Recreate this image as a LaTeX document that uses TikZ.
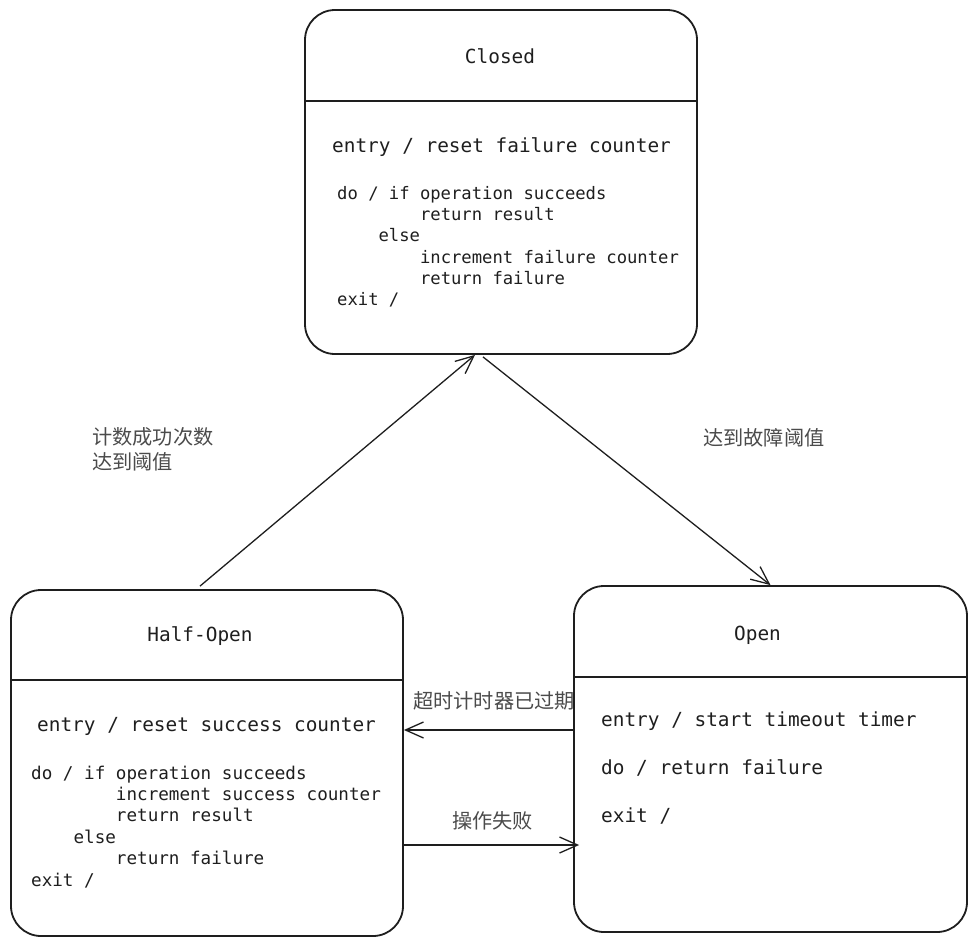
\documentclass[tikz,border=0pt]{standalone}
\usepackage{fontspec}
\setmonofont{DejaVu Sans Mono}
\newfontfamily\cjk{Noto Sans CJK SC}
\usetikzlibrary{arrows.meta}
\definecolor{ink}{HTML}{1E1E1E}
\begin{document}
\begin{tikzpicture}[x=1pt, y=-1pt, baseline,
    state/.style={draw=ink, line width=1.8pt, rounded corners=30pt, inner sep=0},
    head/.style={font=\ttfamily\fontsize{19.4}{21}\selectfont, text=ink, anchor=base, inner sep=0},
    body/.style={font=\ttfamily\fontsize{19.4}{21}\selectfont, text=ink, anchor=base west, inner sep=0, align=left},
    code/.style={body, font=\ttfamily\fontsize{17.2}{21.2}\selectfont},
    lbl/.style={font=\cjk\fontsize{20.2}{25}\selectfont, text=ink!80, anchor=west, inner sep=0, align=left},
    trans/.style={draw=ink, line width=1.3pt, -{Straight Barb[length=18pt, width=16pt, line width=1.3pt]}}]
    \useasboundingbox (0,0) rectangle (977,946);
    \node[state, minimum width=392pt, minimum height=344pt] (closed) at (501,182) {};
    \node[state, minimum width=392pt, minimum height=346pt] (hopen) at (207,763) {};
    \node[state, minimum width=393pt, minimum height=346pt] (open) at (770.5,759) {};
    \draw[ink, line width=1.8pt] ([yshift=-92pt]closed.north west) -- ([yshift=-92pt]closed.north east);
    \draw[ink, line width=1.8pt] ([yshift=-91pt]hopen.north west) -- ([yshift=-91pt]hopen.north east);
    \draw[ink, line width=1.8pt] ([yshift=-92pt]open.north west) -- ([yshift=-92pt]open.north east);
    \node[head] (closedname) at (500,63) {Closed};
    \node[body] (closedentry) at (332,152) {entry / reset failure counter};
    \node[code] (closeddo) at (337,305.5) {do / if operation succeeds\\
        \hphantom{do / if }return result\\
        \hphantom{do /}else\\
        \hphantom{do / if }increment failure counter\\
        \hphantom{do / if }return failure\\
        exit /};
    \node[head] (hopenname) at (200,641.5) {Half-Open};
    \node[body] (hopenentry) at (37,731.5) {entry / reset success counter};
    \node[code, font=\ttfamily\fontsize{17.6}{21.4}\selectfont] (hopendo) at (31,886) {do / if operation succeeds\\
        \hphantom{do / if }increment success counter\\
        \hphantom{do / if }return result\\
        \hphantom{do /}else\\
        \hphantom{do / if }return failure\\
        exit /};
    \node[head] (openname) at (757.5,640) {Open};
    \node[body, font=\ttfamily\fontsize{19.4}{47.7}\selectfont] (openbody) at (601,822) {entry / start timeout timer\\
        do / return failure\\
        exit /};
    \draw[trans] ([xshift=-7pt, yshift=3pt]hopen.north) -- ([xshift=-26pt]closed.south);
    \draw[trans] ([xshift=-18pt, yshift=-2pt]closed.south) -- (open.north);
    \draw[trans] ([yshift=29pt]open.west) -- ([yshift=29pt]open.west -| hopen.east);
    \draw[trans] ([yshift=-82pt]hopen.east) -- ([yshift=-82pt, xshift=6pt]hopen.east -| open.west);
    \node[lbl] (upl) at (92,449.5) {计数成功次数\\达到阈值};
    \node[lbl] (downl) at (703,438) {达到故障阈值};
    \node[lbl] (timel) at (413,701) {超时计时器已过期};
    \node[lbl] (faill) at (452,821) {操作失败};
\end{tikzpicture}
\end{document}
